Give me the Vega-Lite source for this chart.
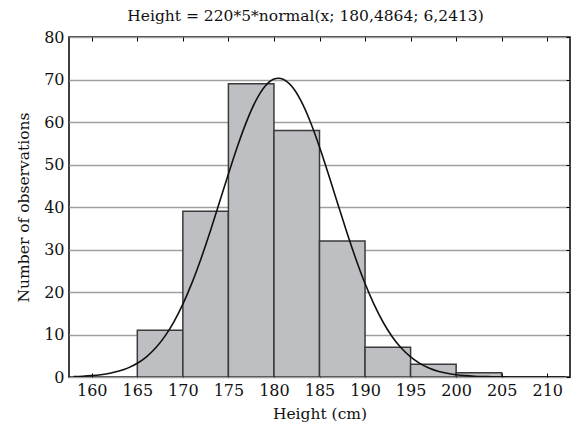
{
  "$schema": "https://vega.github.io/schema/vega-lite/v6.json",
  "width": 501,
  "height": 340,
  "autosize": {"type": "none"},
  "padding": {"left": 69, "top": 37, "right": 2, "bottom": 51},
  "background": "white",
  "config": {
    "font": "DejaVu Serif",
    "view": {"stroke": "#000", "strokeWidth": 1.5},
    "axis": {"labelFont": "DejaVu Serif", "titleFont": "DejaVu Serif", "labelColor": "#111", "titleColor": "#111", "labelFontSize": 16, "titleFontSize": 15.5, "titleFontWeight": "normal", "domain": false}
  },
  "title": {"text": "Height = 220*5*normal(x; 180,4864; 6,2413)", "font": "DejaVu Serif", "fontSize": 15.5, "fontWeight": "normal", "color": "#111", "dx": -14, "offset": 5},
  "datasets": {
    "bins": [
      {"lo": 165, "hi": 170, "count": 11},
      {"lo": 170, "hi": 175, "count": 39},
      {"lo": 175, "hi": 180, "count": 69},
      {"lo": 180, "hi": 185, "count": 58},
      {"lo": 185, "hi": 190, "count": 32},
      {"lo": 190, "hi": 195, "count": 7},
      {"lo": 195, "hi": 200, "count": 3},
      {"lo": 200, "hi": 205, "count": 1}
    ],
    "curve": [
      {"x": 158, "y": 0.107}, {"x": 159, "y": 0.188}, {"x": 160, "y": 0.322}, {"x": 161, "y": 0.538},
      {"x": 162, "y": 0.875}, {"x": 163, "y": 1.389}, {"x": 164, "y": 2.147}, {"x": 165, "y": 3.237},
      {"x": 166, "y": 4.755}, {"x": 167, "y": 6.811}, {"x": 168, "y": 9.504}, {"x": 169, "y": 12.928},
      {"x": 170, "y": 17.139}, {"x": 171, "y": 22.148}, {"x": 172, "y": 27.896}, {"x": 173, "y": 34.245},
      {"x": 174, "y": 40.974}, {"x": 175, "y": 47.782}, {"x": 176, "y": 54.305}, {"x": 177, "y": 60.154},
      {"x": 178, "y": 64.947}, {"x": 179, "y": 68.345}, {"x": 180, "y": 70.098}, {"x": 180.5, "y": 70.311},
      {"x": 181, "y": 70.073}, {"x": 182, "y": 68.274}, {"x": 183, "y": 64.834}, {"x": 184, "y": 60.007},
      {"x": 185, "y": 54.134}, {"x": 186, "y": 47.595}, {"x": 187, "y": 40.788}, {"x": 188, "y": 34.066},
      {"x": 189, "y": 27.731}, {"x": 190, "y": 22.002}, {"x": 191, "y": 17.015}, {"x": 192, "y": 12.824},
      {"x": 193, "y": 9.421}, {"x": 194, "y": 6.747}, {"x": 195, "y": 4.708}, {"x": 196, "y": 3.202},
      {"x": 197, "y": 2.123}, {"x": 198, "y": 1.372}, {"x": 199, "y": 0.864}, {"x": 200, "y": 0.530},
      {"x": 201, "y": 0.317}, {"x": 202, "y": 0.185}, {"x": 203, "y": 0.105}, {"x": 204, "y": 0.058},
      {"x": 205, "y": 0.031}, {"x": 206, "y": 0.016}, {"x": 207, "y": 0.008}, {"x": 208, "y": 0.004},
      {"x": 209, "y": 0.002}, {"x": 210, "y": 0.001}, {"x": 211, "y": 0.0}, {"x": 212, "y": 0.0}
    ]
  },
  "layer": [
    {
      "data": {"name": "bins"},
      "mark": {"type": "bar", "fill": "#bebfc3", "stroke": "#3a3a3a", "strokeWidth": 1.5, "clip": true},
      "encoding": {
        "x": {"field": "lo", "type": "quantitative",
              "scale": {"domain": [157.5, 212.5], "nice": false, "zero": false},
              "axis": {"orient": "bottom", "title": "Height (cm)", "values": [160,165,170,175,180,185,190,195,200,205,210], "grid": false, "tickSize": -4, "tickColor": "#000", "labelPadding": 9, "titlePadding": 8, "labelFlush": false}},
        "x2": {"field": "hi"},
        "y": {"field": "count", "type": "quantitative",
              "scale": {"domain": [0, 80], "nice": false},
              "axis": {"orient": "left", "title": "Number of observations", "values": [0,10,20,30,40,50,60,70,80], "grid": true, "gridColor": "#a0a0a0", "gridWidth": 1.5, "ticks": false, "labelPadding": 5, "titlePadding": 12}},
        "y2": {"datum": 0}
      }
    },
    {
      "data": {"name": "curve"},
      "mark": {"type": "line", "color": "#111", "strokeWidth": 1.6, "interpolate": "monotone", "clip": true},
      "encoding": {
        "x": {"field": "x", "type": "quantitative",
              "scale": {"domain": [157.5, 212.5], "nice": false, "zero": false},
              "axis": {"orient": "top", "title": null, "labels": false, "values": [160,165,170,175,180,185,190,195,200,205,210], "grid": false, "tickSize": -4, "tickColor": "#000"}},
        "y": {"field": "y", "type": "quantitative",
              "scale": {"domain": [0, 80], "nice": false},
              "axis": {"orient": "right", "title": null, "labels": false, "values": [0,10,20,30,40,50,60,70,80], "grid": false, "tickSize": -4, "tickColor": "#000"}}
      }
    }
  ],
  "resolve": {"axis": {"x": "independent", "y": "independent"}}
}
